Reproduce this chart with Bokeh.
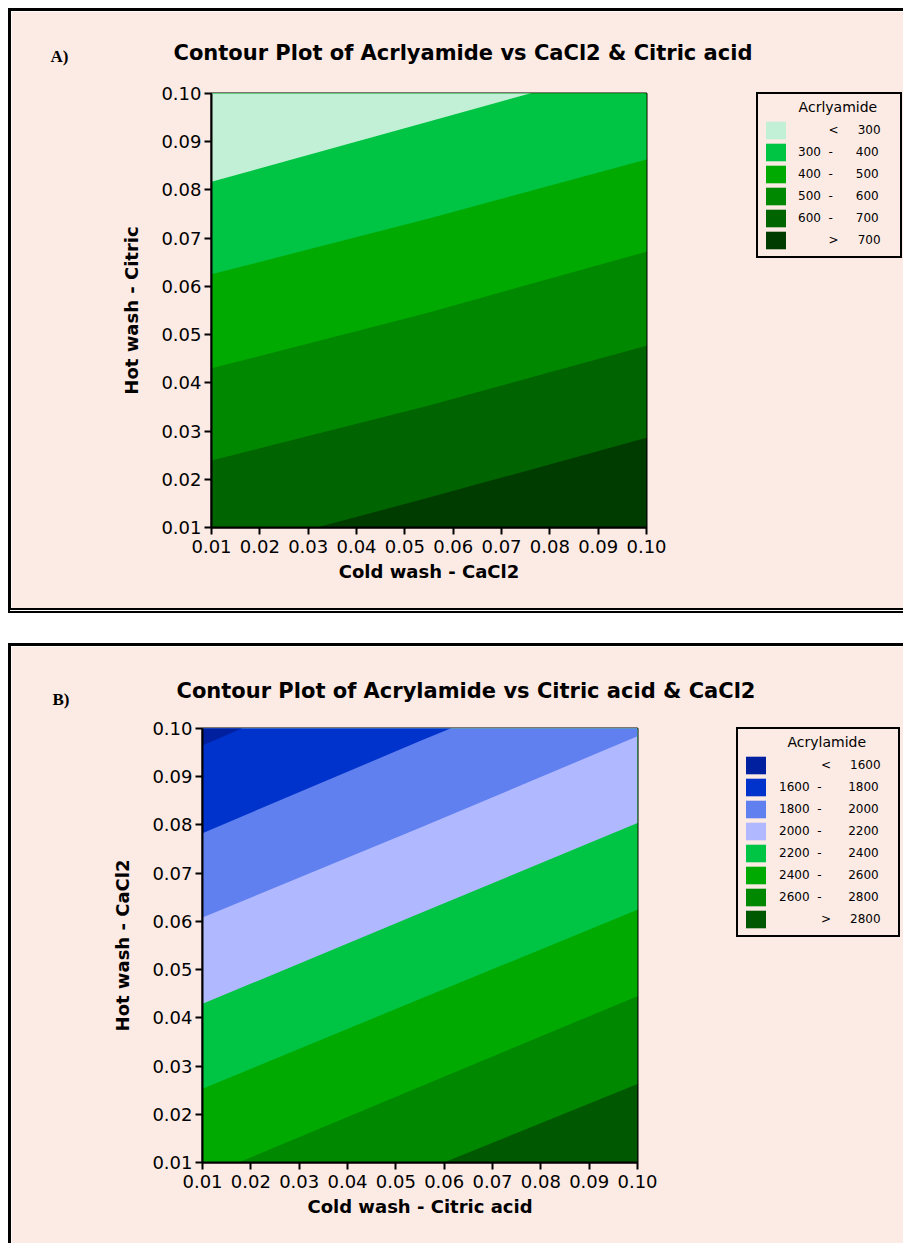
from bokeh.plotting import figure
from bokeh.models import Legend, LegendItem, FixedTicker, Title
from bokeh.embed import file_html
from bokeh.resources import INLINE

PINK = "#FCEAE4"
NB = "\u00a0"

# ---------------- data ----------------
x_knots = [0.01, 0.055, 0.10]
ticks = [0.01, 0.02, 0.03, 0.04, 0.05, 0.06, 0.07, 0.08, 0.09, 0.10]
tick_labels = ["0.01", "0.02", "0.03", "0.04", "0.05", "0.06", "0.07", "0.08", "0.09", "0.10"]

# Panel A: Acrlyamide vs CaCl2 & Citric acid (contour boundaries, y at x_knots)
a_levels = [300, 400, 500, 600, 700]
a_b300 = [0.0817, 0.0942, 0.1067]
a_b400 = [0.0625, 0.0741, 0.0863]
a_b500 = [0.0430, 0.0546, 0.0672]
a_b600 = [0.0239, 0.0353, 0.0477]
a_b700 = [0.0042, 0.0162, 0.0286]
a_labels = [NB * 8 + "<" + NB * 5 + "300",
            "300" + NB * 2 + "-" + NB * 6 + "400",
            "400" + NB * 2 + "-" + NB * 6 + "500",
            "500" + NB * 2 + "-" + NB * 6 + "600",
            "600" + NB * 2 + "-" + NB * 6 + "700",
            NB * 8 + ">" + NB * 5 + "700"]
a_colors = ["#C2F0D7", "#00C443", "#00AA00", "#008800", "#006400", "#003C00"]

# Panel B: Acrylamide vs Citric acid & CaCl2
b_levels = [1600, 1800, 2000, 2200, 2400, 2600, 2800]
b_b1600 = [0.0965, 0.1160, 0.1350]
b_b1800 = [0.0783, 0.0974, 0.1160]
b_b2000 = [0.0608, 0.0794, 0.0984]
b_b2200 = [0.0429, 0.0617, 0.0804]
b_b2400 = [0.0253, 0.0439, 0.0624]
b_b2600 = [0.0069, 0.0257, 0.0445]
b_b2800 = [-0.0103, 0.0080, 0.0263]
b_labels = [NB * 11 + "<" + NB * 5 + "1600",
            "1600" + NB * 2 + "-" + NB * 7 + "1800",
            "1800" + NB * 2 + "-" + NB * 7 + "2000",
            "2000" + NB * 2 + "-" + NB * 7 + "2200",
            "2200" + NB * 2 + "-" + NB * 7 + "2400",
            "2400" + NB * 2 + "-" + NB * 7 + "2600",
            "2600" + NB * 2 + "-" + NB * 7 + "2800",
            NB * 11 + ">" + NB * 5 + "2800"]
b_colors = ["#0020A0", "#0033CC", "#6080F0", "#B0B8FF", "#00C443", "#00AA00", "#008800", "#005800"]


def make_panel(title, tag, tag_offset, tag_standoff, xlabel, ylabel, legend_title, labels, colors,
               bounds, borders, title_offset, title_standoff,
               legend_loc, label_standoff, label_width):
    left, right, top, bottom = borders
    p = figure(frame_width=435, frame_height=434, x_range=(0.01, 0.10), y_range=(0.01, 0.10),
               output_backend="svg", toolbar_location=None,
               min_border_left=left, min_border_right=right,
               min_border_top=top, min_border_bottom=bottom)
    p.background_fill_color = PINK
    p.border_fill_color = PINK
    p.outline_line_color = "black"
    p.outline_line_width = 2
    p.grid.visible = False

    # bands: draw from the highest-value band (bottom) upward, each covering above its lower boundary
    lo_cap = [-0.2] * len(x_knots)
    hi_cap = [0.3] * len(x_knots)
    n = len(colors)
    renderers = [None] * n
    for i in range(n - 1, -1, -1):
        lower = lo_cap if i == n - 1 else bounds[i]
        r = p.varea(x=x_knots, y1=lower, y2=hi_cap, fill_color=colors[i], fill_alpha=1.0)
        renderers[i] = r

    for ax in (p.xaxis, p.yaxis):
        ax.ticker = FixedTicker(ticks=ticks)
        ax.major_label_overrides = dict(zip(ticks, tick_labels))
        ax.axis_line_width = 2
        ax.major_tick_line_width = 2
        ax.major_tick_out = 7
        ax.major_tick_in = 0
        ax.minor_tick_out = 0
        ax.minor_tick_in = 0
        ax.major_label_text_font = "DejaVu Sans"
        ax.major_label_text_font_size = "18px"
        ax.major_label_text_color = "black"
        ax.axis_label_text_font = "DejaVu Sans"
        ax.axis_label_text_font_size = "18px"
        ax.axis_label_text_font_style = "bold"
        ax.axis_label_text_color = "black"
    p.xaxis.axis_label = xlabel
    p.yaxis.axis_label = ylabel
    p.xaxis.major_label_standoff = 5
    p.yaxis.major_label_standoff = 3
    p.xaxis.axis_label_standoff = 5
    p.yaxis.axis_label_standoff = 16

    # panel tag, nearest the frame
    p.add_layout(Title(text=tag, align="left", offset=tag_offset, standoff=tag_standoff,
                       text_font="Liberation Serif", text_font_style="bold",
                       text_font_size="17px", text_color="black"), "above")

    p.title.text = title
    p.title.text_font = "DejaVu Sans"
    p.title.text_font_size = "21px"
    p.title.text_font_style = "bold"
    p.title.text_color = "black"
    p.title.align = "left"
    p.title.offset = title_offset
    p.title.standoff = title_standoff

    items = [LegendItem(label=labels[i], renderers=[renderers[i]]) for i in range(n)]
    legend = Legend(items=items, location=legend_loc, title=legend_title,
                    title_text_font="DejaVu Sans", title_text_font_size="14px",
                    title_text_font_style="normal", title_text_color="black", title_standoff=4,
                    label_text_font="DejaVu Sans", label_text_font_size="12px",
                    label_text_color="black",
                    glyph_width=25, glyph_height=22, label_height=17, label_width=label_width,
                    label_standoff=label_standoff, spacing=0, padding=5, margin=0,
                    border_line_color="black", border_line_width=2, border_line_alpha=1.0,
                    background_fill_color=PINK, background_fill_alpha=1.0)
    p.add_layout(legend, "right")
    return p


pA = make_panel("Contour Plot of Acrlyamide vs CaCl2 & Citric acid", "A)", -161, 56,
                "Cold wash - CaCl2", "Hot wash - Citric", NB * 8 + "Acrlyamide",
                a_labels, a_colors, [a_b300, a_b400, a_b500, a_b600, a_b700],
                (200, 257, 82, 81), -38, -97, (110, 269), 10, 97)
pA.styles = {"border-left": "3px solid black", "border-top": "3px solid black",
             "border-bottom": "5px double black", "margin-left": "8px", "margin-top": "8px"}

pB = make_panel("Contour Plot of Acrylamide vs Citric acid & CaCl2", "B)", -150, 40,
                "Cold wash - Citric acid", "Hot wash - CaCl2", NB * 10 + "Acrylamide",
                b_labels, b_colors, [b_b1600, b_b1800, b_b2000, b_b2200, b_b2400, b_b2600, b_b2800],
                (191, 266, 82, 81), -26, -70, (99, 225), 11, 114)
pB.styles = {"border-left": "3px solid black", "border-top": "3px solid black",
             "margin-left": "8px", "margin-top": "30px"}

open("out.html", "w").write(file_html([pA, pB], INLINE))
